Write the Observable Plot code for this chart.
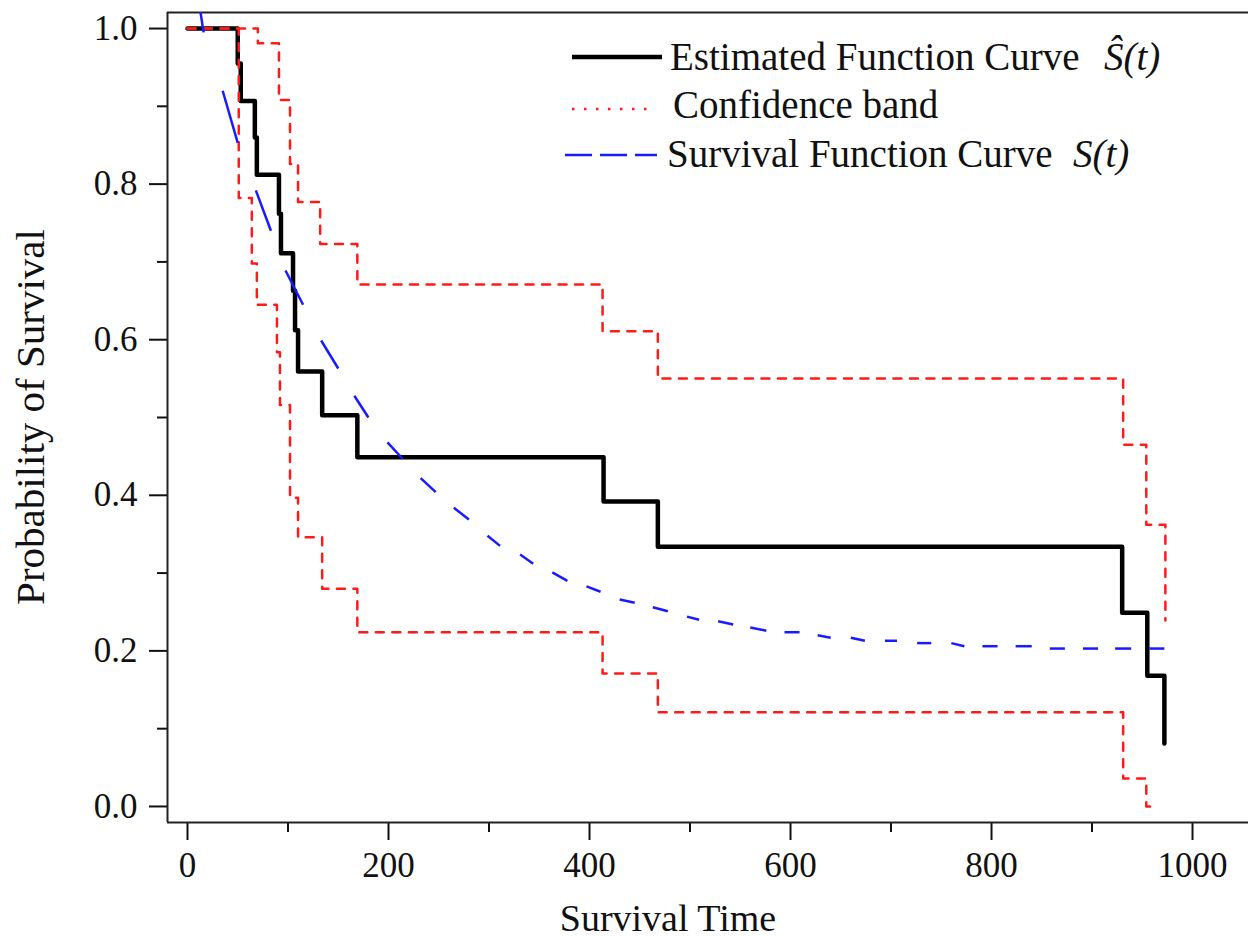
<!DOCTYPE html>
<html><head><meta charset="utf-8">
<script src="https://cdn.jsdelivr.net/npm/d3@7"></script>
<script src="https://cdn.jsdelivr.net/npm/@observablehq/plot@0.6"></script>
<style>html,body{margin:0;padding:0;background:#fff} svg{display:block}</style>
</head><body><div id="chart"></div>
<script>
// Kaplan-Meier estimate  S^(t)
const kmTime = [0, 50, 53, 67, 69, 91, 93, 105, 107, 110, 134, 169, 414, 468, 930, 955, 972];
const kmSurv = [1.0, 0.955, 0.907, 0.860, 0.812, 0.762, 0.711, 0.663, 0.612, 0.559, 0.503, 0.449, 0.392, 0.334, 0.249, 0.168, 0.081];
// Confidence band, upper
const upTime = [0, 70, 91, 102, 110, 132, 169, 413, 468, 931, 954, 973];
const upVal  = [1.0, 0.981, 0.908, 0.826, 0.777, 0.723, 0.671, 0.611, 0.550, 0.465, 0.362, 0.239];
// Confidence band, lower
const loTime = [0, 51, 64, 69, 89, 92, 102, 110, 134, 169, 413, 468, 931, 954, 963];
const loVal  = [1.0, 0.782, 0.698, 0.645, 0.584, 0.516, 0.397, 0.346, 0.280, 0.224, 0.171, 0.121, 0.036, 0.0, 0.0];
// Survival function curve S(t), read at the two ends of each dash
const sTime = [10, 16, 35, 50, 68, 83, 97.5, 115, 133, 150, 166, 180, 199, 214, 232, 247, 265, 280, 298.5, 311,
  331, 344, 363, 378, 397, 411, 430, 445, 463, 478, 497, 509, 528, 543, 560, 576, 594, 609, 627, 640,
  660, 674, 694, 706, 726, 740, 760, 773, 791, 806, 824, 840, 858, 873, 891, 906, 923, 939, 957, 972];
const sVal = [1.046, 0.995, 0.920, 0.853, 0.792, 0.740, 0.689, 0.645, 0.599, 0.563, 0.528, 0.500, 0.468, 0.447, 0.422, 0.404, 0.384, 0.369, 0.348, 0.335,
  0.324, 0.312, 0.301, 0.290, 0.283, 0.276, 0.266, 0.262, 0.256, 0.251, 0.244, 0.240, 0.238, 0.234, 0.230, 0.226, 0.224, 0.224, 0.220, 0.217,
  0.217, 0.213, 0.213, 0.213, 0.210, 0.210, 0.210, 0.206, 0.206, 0.206, 0.206, 0.206, 0.203, 0.203, 0.203, 0.203, 0.203, 0.203, 0.203, 0.203];

const xMajor = [0, 200, 400, 600, 800, 1000];
const xMinor = [100, 300, 500, 700, 900];
const yMajor = [0, 0.2, 0.4, 0.6, 0.8, 1.0];
const yMinor = [0.1, 0.3, 0.5, 0.7, 0.9];
const xDomain = [-19.9, 1055.7];
const yDomain = [-0.0206, 1.0206];

const xTitle = "Survival Time";
const yTitle = "Probability of Survival";
const legendNames = ["Estimated Function Curve", "Confidence band", "Survival Function Curve"];
const legendMath = ["Ŝ(t)", "", "S(t)"];

const km = kmTime.map((t, i) => ({t, v: kmSurv[i]}));
const upper = upTime.map((t, i) => ({t, v: upVal[i]}));
const lower = loTime.map((t, i) => ({t, v: loVal[i]}));
const dashes = [];
for (let i = 0; i + 1 < sTime.length; i += 2) {
  dashes.push({t1: sTime[i], v1: sVal[i], t2: sTime[i + 1], v2: sVal[i + 1]});
}

const FONT = "'Liberation Serif', 'Times New Roman', serif";

const plot = Plot.plot({
  width: 1248, height: 937,
  marginLeft: 167, marginRight: 0, marginTop: 12, marginBottom: 115,
  x: {domain: xDomain, label: null},
  y: {domain: yDomain, label: null},
  style: {fontFamily: FONT, fontSize: "35px", color: "#111", background: "#fff", overflow: "visible"},
  marks: [
    Plot.axisX({ticks: xMajor, tickSize: 18, tickPadding: 12, tickFormat: "d", strokeWidth: 2, fontSize: 35, label: null}),
    Plot.axisX({ticks: xMinor, tickSize: 10, tickFormat: () => "", strokeWidth: 2, label: null}),
    Plot.axisY({ticks: yMajor, tickSize: 18, tickPadding: 12, tickFormat: ".1f", strokeWidth: 2, fontSize: 35, label: null}),
    Plot.axisY({ticks: yMinor, tickSize: 10, tickFormat: () => "", strokeWidth: 2, label: null}),
    Plot.ruleX([xDomain[0]], {stroke: "#222", strokeWidth: 2}),
    Plot.ruleY([yDomain[0], yDomain[1]], {stroke: "#222", strokeWidth: 2}),
    Plot.line(km, {x: "t", y: "v", curve: "step-after", stroke: "#000", strokeWidth: 4.5}),
    Plot.line(upper, {x: "t", y: "v", curve: "step-after", stroke: "#ff1a1a", strokeWidth: 2.5, strokeDasharray: "8,8.5"}),
    Plot.line(lower, {x: "t", y: "v", curve: "step-after", stroke: "#ff1a1a", strokeWidth: 2.5, strokeDasharray: "8,8.5"}),
    Plot.link(dashes, {x1: "t1", y1: "v1", x2: "t2", y2: "v2", stroke: "#1a1aff", strokeWidth: 2.5, clip: true})
  ]
});

const svg = d3.select(plot);
// axis titles
svg.append("text").attr("x", 668).attr("y", 931).attr("text-anchor", "middle")
  .attr("font-family", FONT).attr("font-size", 38).attr("fill", "#111").text(xTitle);
svg.append("text").attr("transform", "translate(44,417) rotate(-90)").attr("text-anchor", "middle")
  .attr("font-family", FONT).attr("font-size", 41).attr("fill", "#111").text(yTitle);

// legend
const lg = svg.append("g").attr("text-anchor", "start");
lg.append("line").attr("x1", 572).attr("x2", 662).attr("y1", 57).attr("y2", 57)
  .attr("stroke", "#000").attr("stroke-width", 4.5);
lg.append("line").attr("x1", 572).attr("x2", 650).attr("y1", 109).attr("y2", 109)
  .attr("stroke", "#ff1a1a").attr("stroke-width", 2.5).attr("stroke-dasharray", "2.5,9.5");
lg.append("line").attr("x1", 565).attr("x2", 657).attr("y1", 155).attr("y2", 155)
  .attr("stroke", "#1a1aff").attr("stroke-width", 2.5).attr("stroke-dasharray", "27,8");
const rows = [
  {x: 670, y: 70, mx: 1104},
  {x: 673, y: 118, mx: 0},
  {x: 667, y: 167, mx: 1073}
];
rows.forEach((r, i) => {
  lg.append("text").attr("x", r.x).attr("y", r.y).attr("text-anchor", "start").attr("font-family", FONT)
    .attr("font-size", 39).attr("fill", "#111").text(legendNames[i]);
  if (legendMath[i]) {
    lg.append("text").attr("x", r.mx).attr("y", r.y).attr("text-anchor", "start").attr("font-family", FONT)
      .attr("font-size", 39).attr("font-style", "italic").attr("fill", "#111").text(legendMath[i]);
  }
});

document.getElementById("chart").appendChild(plot);
</script>
</body></html>
